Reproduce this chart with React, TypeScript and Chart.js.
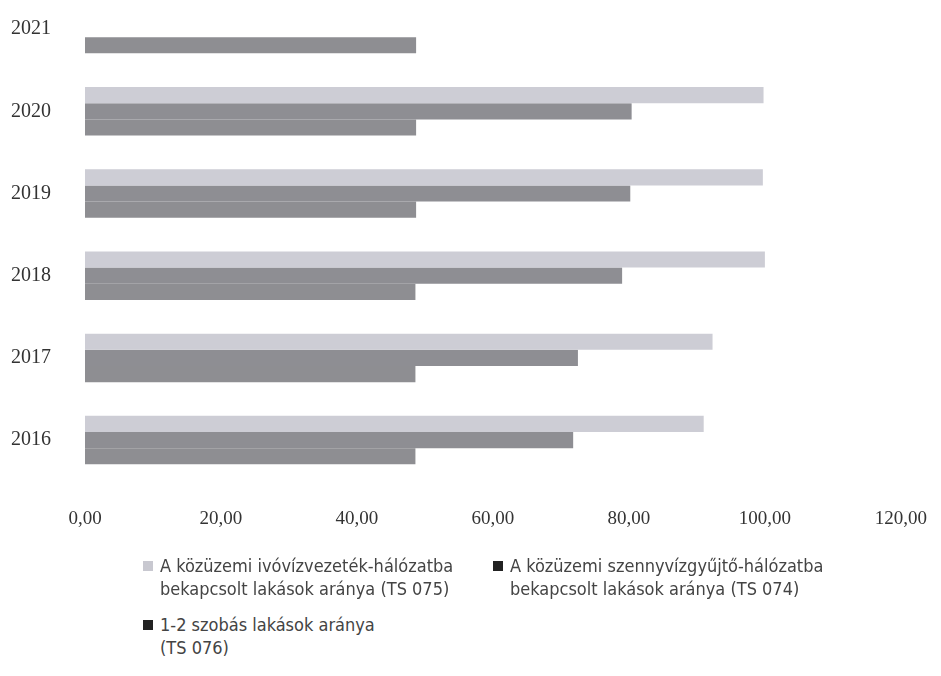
import React, { useEffect, useRef } from "react";
import { Chart, registerables } from "chart.js";

Chart.register(...registerables);

const years = ["2021", "2020", "2019", "2018", "2017", "2016"];
const ivovizValues = [null, 99.8, 99.7, 100.0, 92.3, 91.0];
const szennyvizValues = [null, 80.4, 80.2, 79.0, 72.5, 71.8];
const szobasValues = [48.7, 48.7, 48.7, 48.6, 48.6, 48.6];
const xTicks = [0, 20, 40, 60, 80, 100, 120];

const seriesLabels = [
  ["A közüzemi ivóvízvezeték-hálózatba", "bekapcsolt lakások aránya (TS 075)"],
  ["A közüzemi szennyvízgyűjtő-hálózatba", "bekapcsolt lakások aránya (TS 074)"],
  ["1-2 szobás lakások aránya", "(TS 076)"],
];
const barColors = ["#cdcdd5", "#8e8e93", "#8e8e92"];
const markerColors = ["#c8c8d0", "#222222", "#222222"];

const CANVAS_W = 953;
const CANVAS_H = 580;

export default function App() {
  const ref = useRef<HTMLCanvasElement | null>(null);

  useEffect(() => {
    if (!ref.current) return;
    const chart = new Chart(ref.current, {
      type: "bar",
      data: {
        labels: years,
        datasets: [
          { label: seriesLabels[0].join(" "), data: ivovizValues, backgroundColor: barColors[0] },
          { label: seriesLabels[1].join(" "), data: szennyvizValues, backgroundColor: barColors[1] },
          { label: seriesLabels[2].join(" "), data: szobasValues, backgroundColor: barColors[2] },
        ],
      },
      options: {
        indexAxis: "y",
        animation: false,
        responsive: false,
        maintainAspectRatio: false,
        layout: { padding: { top: 0, right: 0, bottom: 0, left: 11 } },
        datasets: { bar: { barPercentage: 1, categoryPercentage: 0.59 } },
        plugins: { legend: { display: false }, tooltip: { enabled: false } },
        scales: {
          x: {
            min: 0,
            max: 120,
            afterBuildTicks: (scale: any) => {
              scale.ticks = xTicks.map((v) => ({ value: v }));
            },
            grid: { display: false, drawTicks: false },
            border: { display: false },
            ticks: {
              padding: 26,
              color: "#333",
              font: { family: "'Liberation Serif', serif", size: 19 },
              callback: (v: any) => Number(v).toFixed(2).replace(".", ","),
            },
          },
          y: {
            afterFit: (scale: any) => {
              scale.width = 74;
            },
            grid: { display: false, drawTicks: false },
            border: { display: false },
            ticks: {
              padding: 0,
              crossAlign: "far",
              color: "#333",
              font: { family: "'Liberation Serif', serif", size: 20 },
            },
          },
        },
      },
    });
    return () => chart.destroy();
  }, []);

  const legendPos = [
    { left: 143, top: 554 },
    { left: 493, top: 554 },
    { left: 143, top: 613 },
  ];

  return (
    <div style={{ position: "absolute", left: 0, top: 0, width: 941, height: 676, overflow: "hidden", background: "#fff" }}>
      <div style={{ position: "absolute", left: 0, top: -24, width: CANVAS_W, height: CANVAS_H }}>
        <canvas ref={ref} width={CANVAS_W} height={CANVAS_H} style={{ width: CANVAS_W, height: CANVAS_H }} />
      </div>
      {seriesLabels.map((lines, i) => (
        <div
          key={i}
          style={{
            position: "absolute",
            left: legendPos[i].left,
            top: legendPos[i].top,
            fontFamily: "'Liberation Sans Narrow', 'DejaVu Sans Condensed', sans-serif",
            fontSize: 18,
            lineHeight: "23px",
            color: "#444",
            whiteSpace: "nowrap",
          }}
        >
          <span
            style={{
              position: "absolute",
              left: 0,
              top: 7,
              width: 10,
              height: 10,
              background: markerColors[i],
            }}
          />
          <div style={{ paddingLeft: 17 }}>
            {lines.map((l, j) => (
              <div key={j}>{l}</div>
            ))}
          </div>
        </div>
      ))}
    </div>
  );
}
